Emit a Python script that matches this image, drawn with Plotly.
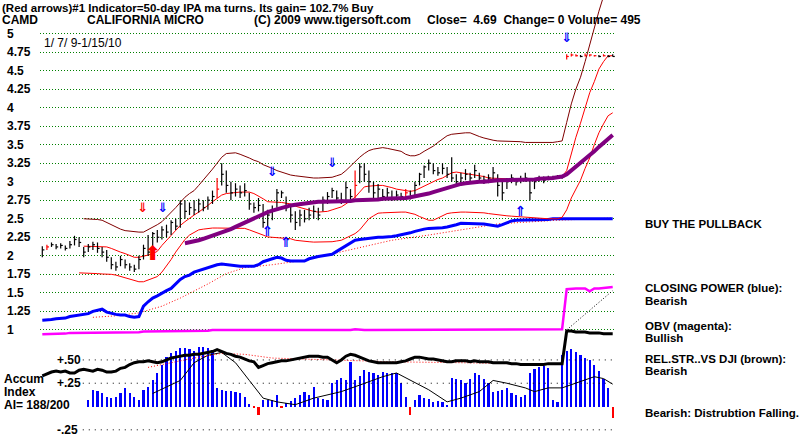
import plotly.graph_objects as go

# ---------------- data (bar index = trading-day slot, 1/7/09 .. 1/15/10) -------------
close = [2.08,2.12,2.15,2.12,2.14,2.10,2.15,2.22,2.18,2.05,
         2.12,2.15,2.10,2.05,1.98,1.88,1.85,1.95,1.88,1.85,
         1.82,1.95,2.10,2.05,2.30,2.25,2.35,2.32,2.45,2.40,
         2.70,2.60,2.65,2.62,2.70,2.65,2.75,2.80,2.90,3.10,
         2.95,2.85,2.90,2.85,2.88,2.70,2.65,2.68,2.45,2.55,
         2.60,2.85,2.85,2.65,2.55,2.45,2.55,2.50,2.55,2.60,
         2.55,2.75,2.80,2.88,2.78,2.75,2.92,2.80,2.95,3.20,
         3.10,3.00,2.85,2.90,2.80,2.85,2.78,2.82,2.80,2.85,
         2.80,2.95,3.10,3.20,3.25,3.15,3.12,3.18,3.10,3.05,
         3.00,3.05,3.10,3.05,3.15,3.05,3.02,3.05,3.12,2.95,
         2.85,3.00,3.05,3.00,3.02,3.05,2.85,3.00,3.05,3.02,
         3.05,3.06,3.07,3.06,4.69,4.71,4.70,4.69,4.70,4.71,
         4.70,4.69,4.70,4.69,4.69]
high = [2.13,2.15,2.18,2.16,2.17,2.14,2.20,2.27,2.25,2.12,
        2.16,2.19,2.18,2.12,2.08,1.98,1.92,2.00,1.95,1.90,
        1.88,2.00,2.15,2.28,2.32,2.35,2.40,2.42,2.48,2.50,
        2.75,2.75,2.72,2.75,2.77,2.75,2.80,2.88,3.05,3.25,
        3.15,3.00,2.98,2.95,2.98,2.85,2.72,2.78,2.70,2.62,
        2.68,2.90,2.88,2.80,2.70,2.60,2.62,2.62,2.65,2.68,
        2.65,2.80,2.86,2.92,2.88,2.85,3.00,2.90,3.15,3.25,
        3.25,3.15,3.00,2.97,2.90,2.92,2.88,2.88,2.85,2.90,
        2.88,3.00,3.12,3.22,3.30,3.25,3.20,3.25,3.20,3.33,
        3.10,3.12,3.17,3.12,3.23,3.12,3.08,3.10,3.20,3.10,
        3.00,3.05,3.10,3.05,3.08,3.12,3.05,3.05,3.08,3.07,
        3.08,3.08,3.09,3.08,4.72,4.73,4.72,4.71,4.73,4.72,
        4.71,4.71,4.72,4.71,4.72]
low = [1.98,2.08,2.12,2.09,2.10,2.07,2.10,2.14,2.12,1.98,
       2.05,2.08,2.04,1.98,1.92,1.82,1.80,1.86,1.83,1.80,
       1.78,1.82,1.95,2.00,2.00,2.18,2.22,2.25,2.28,2.35,
       2.38,2.50,2.55,2.55,2.58,2.60,2.62,2.70,2.78,2.95,
       2.85,2.75,2.80,2.78,2.80,2.62,2.58,2.60,2.38,2.40,
       2.48,2.65,2.78,2.60,2.45,2.35,2.40,2.45,2.48,2.50,
       2.48,2.60,2.70,2.78,2.72,2.70,2.72,2.74,2.78,2.98,
       3.00,2.85,2.75,2.78,2.75,2.76,2.74,2.75,2.75,2.78,
       2.76,2.82,2.95,3.05,3.15,3.10,3.08,3.10,3.05,3.00,
       2.95,2.98,3.02,3.00,3.05,3.00,2.97,2.98,3.02,2.80,
       2.75,2.90,2.98,2.95,2.98,3.00,2.75,2.90,3.00,2.98,
       3.02,3.04,3.05,3.04,4.65,4.69,4.69,4.68,4.69,4.69,
       4.69,4.68,4.69,4.68,4.69]
red_bars = [1, 38, 68, 79, 114, 115, 116, 118, 119, 120, 122]

upper_band = [None]*9 + [
    2.50,2.50,2.50,2.49,2.48,2.45,2.41,2.38,2.36,2.34,
    2.33,2.32,2.32,2.32,2.35,2.38,2.42,2.46,2.52,2.58,
    2.65,2.72,2.79,2.84,2.88,2.95,3.02,3.09,3.17,3.25,
    3.33,3.38,3.39,3.39,3.37,3.35,3.32,3.29,3.27,3.23,
    3.21,3.18,3.15,3.13,3.10,3.09,3.08,3.07,3.06,3.06,
    3.05,3.05,3.05,3.05,3.06,3.08,3.10,3.15,3.21,3.28,
    3.33,3.38,3.42,3.44,3.45,3.46,3.45,3.44,3.43,3.41,
    3.37,3.35,3.35,3.37,3.41,3.44,3.48,3.53,3.58,3.62,
    3.64,3.65,3.66,3.66,3.66,3.63,3.61,3.59,3.57,3.56,
    3.55,3.55,3.54,3.54,3.54,3.54,3.53,3.53,3.52,3.52,
    3.52,3.53,3.53,3.54,3.55,3.80,4.05,4.25,4.41,4.62,
    4.85,5.10,5.30,5.50,5.70,5.90]
mid_band = [None]*9 + [
    2.13,2.13,2.13,2.125,2.12,2.12,2.10,2.07,2.05,2.03,
    2.00,1.98,1.98,1.99,2.01,2.03,2.06,2.14,2.21,2.27,
    2.34,2.41,2.46,2.51,2.55,2.59,2.63,2.68,2.73,2.78,
    2.82,2.84,2.85,2.86,2.86,2.86,2.86,2.84,2.81,2.77,
    2.73,2.73,2.73,2.72,2.71,2.70,2.67,2.65,2.64,2.62,
    2.60,2.59,2.59,2.60,2.62,2.64,2.66,2.70,2.74,2.79,
    2.86,2.93,2.94,2.95,2.95,2.95,2.94,2.92,2.90,2.89,
    2.88,2.87,2.88,2.91,2.94,2.97,3.01,3.03,3.05,3.09,
    3.12,3.13,3.12,3.12,3.11,3.10,3.09,3.07,3.05,3.05,
    3.05,3.05,3.04,3.03,3.03,3.02,3.02,3.02,3.02,3.02,
    3.02,3.03,3.04,3.05,3.07,3.15,3.38,3.60,3.79,4.00,
    4.20,4.35,4.52,4.62,4.70,4.70]
lower_band = [None]*8 + [
    1.77,1.77,1.77,1.765,1.76,1.755,1.755,1.75,1.74,1.72,
    1.70,1.68,1.66,1.65,1.65,1.67,1.70,1.72,1.78,1.86,
    1.95,2.05,2.14,2.22,2.28,2.32,2.35,2.36,2.37,2.375,
    2.375,2.375,2.375,2.375,2.375,2.375,2.37,2.35,2.33,2.30,
    2.28,2.255,2.25,2.245,2.24,2.24,2.23,2.21,2.20,2.19,
    2.19,2.185,2.185,2.185,2.185,2.19,2.20,2.21,2.24,2.27,
    2.30,2.35,2.42,2.50,2.54,2.575,2.58,2.585,2.59,2.59,
    2.59,2.59,2.58,2.56,2.53,2.51,2.48,2.48,2.51,2.55,
    2.57,2.58,2.59,2.59,2.59,2.59,2.59,2.585,2.58,2.57,
    2.56,2.55,2.545,2.54,2.535,2.53,2.52,2.515,2.51,2.505,
    2.50,2.50,2.50,2.50,2.50,2.52,2.62,2.78,2.89,3.02,
    3.18,3.32,3.50,3.66,3.78,3.89,3.93]
ma50 = [None]*31 + [
    2.17,2.18,2.19,2.21,2.23,2.25,2.27,2.29,2.31,
    2.33,2.36,2.39,2.42,2.45,2.48,2.51,2.54,2.56,2.59,
    2.61,2.63,2.65,2.67,2.68,2.69,2.70,2.71,2.72,2.72,
    2.73,2.73,2.73,2.73,2.73,2.74,2.74,2.74,2.75,2.75,
    2.75,2.76,2.76,2.76,2.77,2.77,2.77,2.78,2.78,2.78,
    2.79,2.80,2.81,2.83,2.84,2.86,2.88,2.90,2.92,2.94,
    2.96,2.97,2.98,2.99,2.99,3.00,3.00,3.01,3.01,3.02,
    3.02,3.02,3.02,3.02,3.02,3.03,3.03,3.03,3.04,3.04,
    3.05,3.05,3.06,3.07,3.10,3.15,3.20,3.25,3.30,3.36,
    3.41,3.47,3.52,3.58,3.63]

closing_power = [1.13,1.13,1.14,1.15,1.15,1.16,1.18,1.19,1.20,1.21,
                 1.22,1.25,1.27,1.28,1.24,1.22,1.21,1.20,1.20,1.18,
                 1.17,1.18,1.32,1.38,1.43,1.46,1.50,1.53,1.56,1.62,
                 1.68,1.72,1.74,1.78,1.80,1.83,1.85,1.87,1.88,1.89,
                 1.88,1.87,1.86,1.86,1.86,1.86,1.86,1.88,1.92,1.94,
                 1.96,1.98,1.97,1.94,1.93,1.93,1.93,1.93,1.96,1.98,
                 1.99,2.00,2.01,2.02,2.06,2.10,2.13,2.18,2.21,2.22,
                 2.23,2.24,2.24,2.25,2.25,2.25,2.26,2.27,2.28,2.29,
                 2.31,2.33,2.35,2.36,2.37,2.37,2.37,2.38,2.39,2.40,
                 2.42,2.44,2.44,2.43,2.43,2.44,2.43,2.42,2.41,2.40,
                 2.42,2.45,2.47,2.48,2.48,2.49,2.48,2.48,2.48,2.49,
                 2.49,2.50,2.50,2.50,2.50,2.50,2.50,2.50,2.50,2.50,
                 2.50,2.50,2.50,2.50,2.50]
cp_ma_idx = [11,16,21,26,30,36,40,44,50,57,64,70,76,84,91,99,104,112,124]
cp_ma = [1.17,1.19,1.23,1.32,1.43,1.62,1.76,1.84,1.88,1.94,2.04,2.12,2.21,2.28,2.35,2.43,2.45,2.48,2.51]

obv = [0.94,0.94,0.95,0.95,0.95,0.95,0.96,0.96,0.96,0.96,
       0.96,0.96,0.97,0.97,0.97,0.97,0.97,0.97,0.97,0.97,
       0.97,0.97,0.98,0.98,0.98,0.98,0.98,0.98,0.98,0.99,
       0.99,0.99,0.99,0.99,0.99,0.99,0.99,1.00,1.00,0.99,
       0.99,0.99,0.99,0.99,0.99,1.00,1.00,1.00,1.00,1.00,
       1.00,1.00,1.00,1.00,1.00,1.00,1.00,1.00,1.00,1.00,
       1.00,1.00,1.00,1.00,1.00,1.00,1.00,1.00,1.01,1.00,
       1.00,1.00,1.00,1.00,1.00,1.00,1.00,1.00,1.00,1.00,
       1.00,1.01,1.01,1.01,1.01,1.00,1.00,1.00,1.01,1.01,
       1.01,1.01,1.01,1.01,1.01,1.01,1.01,1.01,1.01,1.00,
       1.00,1.00,1.01,1.01,1.01,1.01,1.01,1.01,1.01,1.01,
       1.01,1.01,1.01,1.01,1.55,1.56,1.56,1.56,1.56,1.52,
       1.56,1.56,1.57,1.58,1.58]
obv_ma_idx = [114, 124]
obv_ma = [1.00, 1.53]

rel_str = [0.33,0.35,0.37,0.38,0.37,0.38,0.36,0.36,0.39,0.40,
           0.39,0.38,0.40,0.39,0.37,0.37,0.38,0.41,0.42,0.45,
           0.47,0.48,0.48,0.49,0.48,0.47,0.48,0.50,0.52,0.53,
           0.54,0.55,0.55,0.56,0.56,0.57,0.58,0.59,0.61,0.59,
           0.57,0.56,0.54,0.53,0.51,0.49,0.48,0.42,0.44,0.46,
           0.47,0.48,0.49,0.49,0.50,0.51,0.52,0.53,0.54,0.54,
           0.54,0.53,0.53,0.50,0.47,0.50,0.54,0.56,0.55,0.53,
           0.51,0.49,0.48,0.47,0.47,0.47,0.47,0.47,0.48,0.49,
           0.51,0.53,0.53,0.52,0.51,0.51,0.50,0.49,0.48,0.48,
           0.49,0.49,0.49,0.48,0.49,0.48,0.48,0.48,0.47,0.47,
           0.47,0.47,0.46,0.46,0.45,0.45,0.45,0.45,0.45,0.45,
           0.46,0.46,0.46,0.46,0.81,0.81,0.80,0.80,0.80,0.79,
           0.79,0.79,0.78,0.78,0.78]
rel_str_ma_idx = [23,33,39,44,50,62,76,91,105,112]
rel_str_ma = [0.42,0.52,0.57,0.56,0.52,0.50,0.48,0.47,0.46,0.45]

accum = [None]*10 + [
    0.07,0.18,0.17,0.14,0.10,0.09,0.10,0.14,0.20,0.14,
    0.10,0.07,0.18,0.21,0.28,0.36,0.45,0.53,0.57,0.60,
    0.63,0.63,0.62,0.60,0.64,0.64,0.63,0.61,0.20,0.18,
    0.17,0.17,0.16,0.14,0.10,0.03,-0.02,-0.09,0.07,0.07,
    0.07,0.12,-0.02,0.04,0.06,0.09,0.12,0.16,0.12,0.21,
    0.09,0.08,0.07,0.25,0.28,0.31,0.29,0.48,0.28,0.33,
    0.39,0.37,0.36,0.34,0.37,0.36,0.36,0.36,0.25,0.10,
    -0.09,0.07,0.12,0.09,0.08,0.05,0.06,0.05,0.02,0.31,
    0.30,0.28,0.25,0.30,0.36,0.34,0.30,0.25,0.16,0.17,
    0.18,0.20,0.15,0.12,0.10,0.12,0.36,0.40,0.42,0.44,
    0.41,0.07,0.05,0.55,0.60,0.62,0.58,0.55,0.52,0.50,
    0.45,0.38,0.30,0.20,-0.12]
accum_ma_idx = [24,30,33,36,39,42,45,48,51,55,59,65,69,74,77,80,84,88,91,95,98,101,105,107,110,113,117,120,122,124]
accum_ma = [0.14,0.28,0.47,0.55,0.58,0.47,0.28,0.09,0.05,0.02,0.09,0.16,0.23,0.32,0.36,0.28,0.18,0.05,0.09,0.16,0.28,0.25,0.20,0.16,0.20,0.20,0.27,0.32,0.30,0.24]

# signals: (bar index, price level, glyph, colour, side)
sig_idx = [23, 25, 24, 50, 63, 49, 53, 104, 114]
sig_lvl = [2.63, 2.63, 2.01, 3.12, 3.24, 2.32, 2.16, 2.59, 4.93]
sig_txt = ["⇓", "⇓", "⬆", "⇓", "⇓", "⇑", "⇑", "⇑", "⇓"]
sig_col = ["#ff0000", "#0000ff", "#ff0000", "#0000ff", "#0000ff", "#0000ff", "#0000ff", "#0000ff", "#0000ff"]
sig_pos = ["middle left", "middle right", "middle center", "middle center", "middle center",
           "middle center", "middle center", "middle center", "middle center"]

price_ticks = [5, 4.75, 4.5, 4.25, 4, 3.75, 3.5, 3.25, 3, 2.75, 2.5, 2.25, 2, 1.75, 1.5, 1.25, 1]
price_labels = ["5", "4.75", "4.5", "4.25", "4", "3.75", "3.5", "3.25", "3", "2.75", "2.5",
                "2.25", "2", "1.75", "1.5", "1.25", "1"]
ai_ticks = [0.5, 0.25, -0.25]
ai_labels = ["+.50", "+.25", "-.25"]

# ---------------- figure ----------------
N = len(close)
idx = list(range(N))
FONT = "Liberation Sans"

fig = go.Figure()

# AI panel grid (dotted black)
ai_first = next(i for i, v in enumerate(accum) if v is not None)
for lv in ai_ticks:
    fig.add_trace(go.Scatter(x=[ai_first - 1.2, N - 0.5], y=[lv, lv], yaxis="y2", mode="lines",
                             line=dict(color="#000000", width=1, dash="1px,5px"), hoverinfo="skip"))

# accumulation index histogram
acc_x = [i for i in idx if accum[i] is not None]
acc_y = [accum[i] for i in acc_x]
fig.add_trace(go.Bar(x=acc_x, y=acc_y, yaxis="y2", width=0.45,
                     marker=dict(color=["#0000ff" if v >= 0 else "#ff0000" for v in acc_y], line=dict(width=0))))
fig.add_trace(go.Scatter(x=accum_ma_idx, y=accum_ma, yaxis="y2", mode="lines",
                         line=dict(color="#000000", width=1)))
fig.add_trace(go.Scatter(x=rel_str_ma_idx, y=rel_str_ma, yaxis="y2", mode="lines",
                         line=dict(color="#ff0000", width=1, dash="1px,2px")))
fig.add_trace(go.Scatter(x=idx, y=rel_str, yaxis="y2", mode="lines",
                         line=dict(color="#000000", width=3)))

# OBV
fig.add_trace(go.Scatter(x=idx, y=obv, mode="lines", line=dict(color="#ff00ff", width=2.5)))
fig.add_trace(go.Scatter(x=obv_ma_idx, y=obv_ma, mode="lines", line=dict(color="#000000", width=1, dash="1px,2px")))

# closing power
fig.add_trace(go.Scatter(x=cp_ma_idx, y=cp_ma, mode="lines", line=dict(color="#ff0000", width=1, dash="1px,2px")))
fig.add_trace(go.Scatter(x=idx, y=closing_power, mode="lines", line=dict(color="#0000ff", width=3)))

# bands
fig.add_trace(go.Scatter(x=idx, y=lower_band, mode="lines", line=dict(color="#ff0000", width=1)))
fig.add_trace(go.Scatter(x=idx, y=mid_band, mode="lines", line=dict(color="#ff0000", width=1)))
fig.add_trace(go.Scatter(x=idx, y=upper_band, mode="lines", line=dict(color="#800000", width=1)))


def bar_segments(sel):
    xs, ys = [], []
    for i in sel:
        xs += [i, i, None, i, i + 0.45, None]
        ys += [low[i], high[i], None, close[i], close[i], None]
    return xs, ys


blk = [i for i in idx if i not in red_bars]
bx, by = bar_segments(blk)
fig.add_trace(go.Scatter(x=bx, y=by, mode="lines", line=dict(color="#000000", width=1.2)))
rx, ry = bar_segments(red_bars)
fig.add_trace(go.Scatter(x=rx, y=ry, mode="lines", line=dict(color="#ff0000", width=1.2)))

# 50-day MA (purple) over bars
fig.add_trace(go.Scatter(x=idx, y=ma50, mode="lines", line=dict(color="#800080", width=4)))

# signal arrows
sizes = {"⇓": 13, "⇑": 14, "⬆": 20}
for k in range(len(sig_idx)):
    fig.add_trace(go.Scatter(x=[sig_idx[k]], y=[sig_lvl[k]], mode="text", text=[sig_txt[k]],
                             textposition=sig_pos[k],
                             textfont=dict(color=sig_col[k], size=sizes[sig_txt[k]],
                                           family="DejaVu Sans", weight="bold")))

# ---------------- text ----------------
W, H = 800, 437
ann = []


def txt(s, px, py, size=11.5, bold=True, yref="paper"):
    ann.append(dict(text=s, x=px / W, xref="paper", y=(1 - py / H) if yref == "paper" else py, yref=yref,
                    xanchor="left", yanchor="middle", showarrow=False,
                    font=dict(family=FONT, size=size, color="#000000", weight="bold" if bold else "normal")))


txt("(Red arrows)#1 Indicator=50-day IPA ma turns. Its gain= 102.7% Buy", 0, 8)
txt("CAMD", 0, 20, size=12)
txt("CALIFORNIA MICRO", 85, 20, size=12)
txt("(C) 2009 www.tigersoft.com", 252, 20, size=12)
txt("Close=\u00a0\u00a04.69\u00a0\u00a0Change= 0 Volume= 495", 425, 20, size=12)
txt("1/ 7/ 9-1/15/10", 42, 43, size=12, bold=False)
for v, s in zip(price_ticks, price_labels):
    txt(s, 5, v, size=12, yref="y")
for v, s in zip(ai_ticks, ai_labels):
    txt(s, 55, v, size=12, yref="y2")
txt("Accum", 2, 379, size=12)
txt("Index", 2, 392, size=12)
txt("AI= 188/200", 2, 405, size=12)
txt("BUY THE PULLBACK", 643, 224)
txt("CLOSING POWER (blue):", 643, 288)
txt("Bearish", 643, 301)
txt("OBV (magenta):", 643, 326)
txt("Bullish", 643, 338)
txt("REL.STR..VS DJI (brown):", 643, 359)
txt("Bearish", 643, 371)
txt("Bearish: Distrubtion Falling.", 643, 413)

fig.update_layout(
    width=W, height=H, margin=dict(l=0, r=0, t=0, b=0),
    paper_bgcolor="#ffffff", plot_bgcolor="#ffffff",
    showlegend=False, bargap=0, annotations=ann,
    xaxis=dict(domain=[40 / W, 615 / W], range=[-0.5, N - 0.5], showgrid=False, zeroline=False,
               showticklabels=False, ticks="", showline=False),
    yaxis=dict(range=[-0.445, 5.452], tickvals=price_ticks, showticklabels=False, ticks="",
               showgrid=True, gridcolor="#008000", gridwidth=1, griddash="1px,2px",
               zeroline=False, showline=False),
    yaxis2=dict(range=[-0.327, 4.362], overlaying="y", visible=False, showgrid=False, zeroline=False),
)

fig.write_html("out.html")
